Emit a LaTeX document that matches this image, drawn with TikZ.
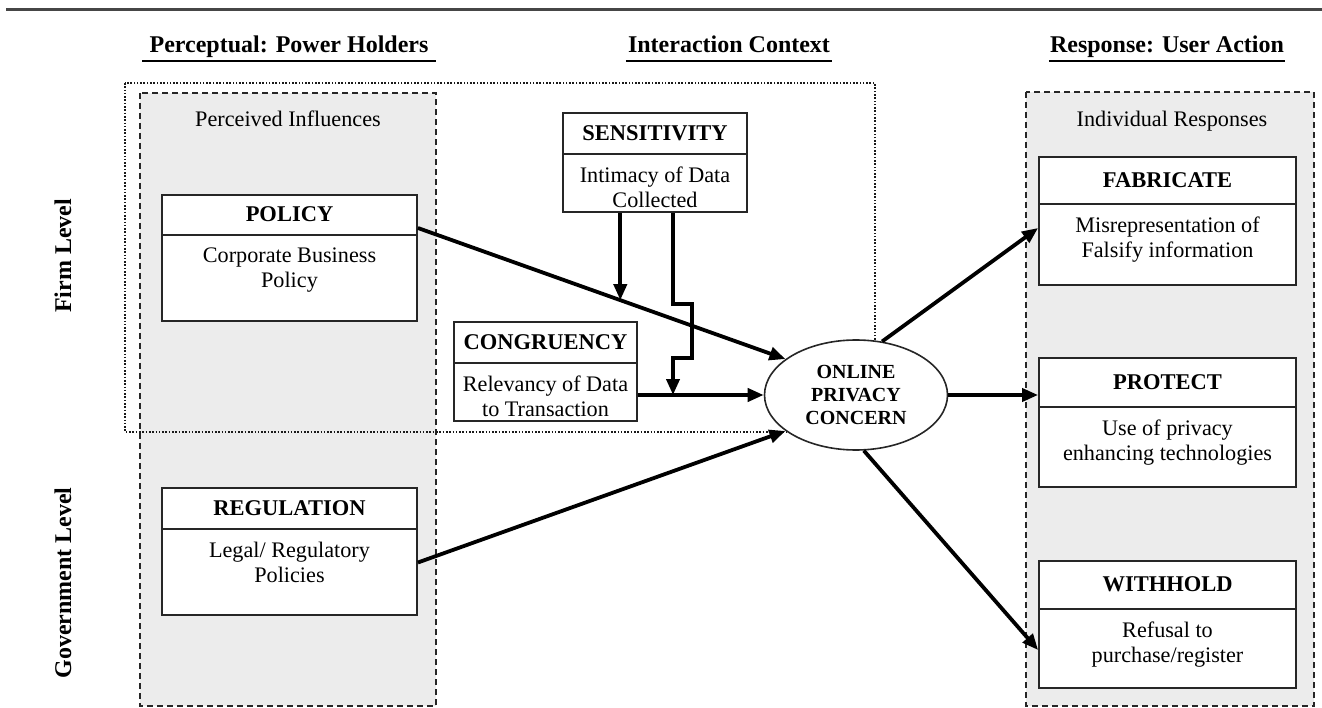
\documentclass[tikz,border=0pt]{standalone}
\usepackage{fontspec}
\setmainfont{Liberation Serif}
\usetikzlibrary{arrows.meta,calc,shapes.geometric}
\definecolor{panelgray}{RGB}{236,236,236}
\definecolor{rulegray}{RGB}{70,70,70}
\tikzset{
 panel/.style={draw=black!85, line width=1.4pt, dash pattern=on 6pt off 4pt, fill=panelgray},
 zone/.style={draw=black!90, line width=2pt, dash pattern=on 1.6pt off 1.7pt},
 box/.style={draw=black!85, line width=1.8pt, fill=white, inner sep=0pt},
 divline/.style={draw=black!85, line width=1.5pt},
 ttl/.style={font=\fontsize{22.5}{25}\selectfont\bfseries, inner sep=0pt},
 body/.style={font=\fontsize{22.2}{24.5}\selectfont, align=center, anchor=north, inner sep=0pt},
 hdr/.style={font=\fontsize{24}{28}\selectfont\bfseries, anchor=base, inner sep=0pt},
 side/.style={font=\fontsize{24}{28}\selectfont\bfseries, rotate=90, inner sep=0pt},
 sub/.style={font=\fontsize{22.2}{24.5}\selectfont, anchor=base, inner sep=0pt},
 arr/.style={line width=3.8pt, -{Triangle[length=16pt,width=13pt]}},
 ulin/.style={line width=2.8pt},
 concernnode/.style={draw=black!85, ellipse, line width=1.6pt, fill=white, minimum width=183pt, minimum height=110pt, inner sep=0pt, align=center, font=\fontsize{20}{23}\selectfont\bfseries},
}
% name, cx, cy, w, h, divider offset, title, body
\newcommand\twobox[8]{%
 \node[box, minimum width=#4pt, minimum height=#5pt] (#1) at (#2,#3) {};
 \draw[divline] ([yshift=-#6pt]#1.north west) -- ([yshift=-#6pt]#1.north east);
 \node[ttl] (#1T) at ([yshift=-#6pt/2]#1.north) {#7};
 \node[body] (#1B) at ([yshift=-#6pt-13pt]#1.north) {#8};
}
\begin{document}
\begin{tikzpicture}[x=1pt,y=-1pt]
\useasboundingbox (0,0) rectangle (1322,708);
% top rule
\coordinate (ruleL) at (6,10);
\coordinate (ruleR) at (1322,10);
\draw[line width=3pt, rulegray] (ruleL) -- (ruleR);
% headers
\node[hdr] (h1) at (289,53) {Perceptual: Power Holders};
\node[hdr] (h2) at (729,53) {Interaction Context};
\node[hdr] (h3) at (1167,53) {Response: User Action};
\draw[ulin] ([xshift=-7pt,yshift=-8pt]h1.base west) -- ([xshift=7pt,yshift=-8pt]h1.base east);
\draw[ulin] ([xshift=-2pt,yshift=-8pt]h2.base west) -- ([xshift=2pt,yshift=-8pt]h2.base east);
\draw[ulin] ([xshift=-1pt,yshift=-8pt]h3.base west) -- ([xshift=1pt,yshift=-8pt]h3.base east);
% side labels
\node[side] (firm) at (63,256) {Firm Level};
\node[side] (gov) at (63,583) {Government Level};
% panels
\draw[panel] (140,93) rectangle (436,706);
\draw[panel] (1026,92) rectangle (1314,706);
\node[sub] (pinf) at (288,127) {Perceived Influences};
\node[sub] (ires) at (1172,127) {Individual Responses};
% firm-level interaction zone
\draw[zone] (125,83) rectangle (875,432);
% boxes
\twobox{policy}{289.5}{258}{255}{126}{41}{POLICY}{Corporate Business\\Policy}
\twobox{regulation}{289.5}{551.5}{255}{127}{42}{REGULATION}{Legal/ Regulatory\\Policies}
\twobox{sens}{655}{162.5}{184}{99}{42}{SENSITIVITY}{Intimacy of Data\\Collected}
\twobox{cong}{545.5}{371.5}{183}{99}{42}{CONGRUENCY}{Relevancy of Data\\to Transaction}
\twobox{fab}{1167.5}{221}{257}{128}{48}{FABRICATE}{Misrepresentation of\\Falsify information}
\twobox{prot}{1167.5}{422.5}{257}{129}{50}{PROTECT}{Use of privacy\\enhancing technologies}
\twobox{with}{1167.5}{624.5}{257}{127}{49}{WITHHOLD}{Refusal to\\purchase/register}
% central construct
\node[concernnode] (concern) at (856,395) {ONLINE\\PRIVACY\\CONCERN};
% connectors
\coordinate (pS) at ([yshift=30pt]policy.east);
\draw[arr] (pS) -- (concern.153);
\path (pS) -- (concern.153) coordinate[pos=0.5507] (m1);
\draw[arr] (sens.south -| m1) -- (m1);
\draw[arr] (cong.east |- concern.west) -- (concern.west);
\coordinate (sR) at ([xshift=18pt]sens.south);
\draw[arr] (sR) -- ++(0,91) -- ++(19,0) -- ++(0,54) -- ++(-19,0) -- (sR |- concern.west);
\draw[arr] ([yshift=-11pt]regulation.east) -- (concern.207);
\draw[arr] (concern.64) -- ([yshift=-7pt]fab.west);
\draw[arr] (concern.east) -- (concern.east -| prot.west);
\draw[arr] (concern.278) -- ([yshift=-25.5pt]with.west);
\end{tikzpicture}
\end{document}
